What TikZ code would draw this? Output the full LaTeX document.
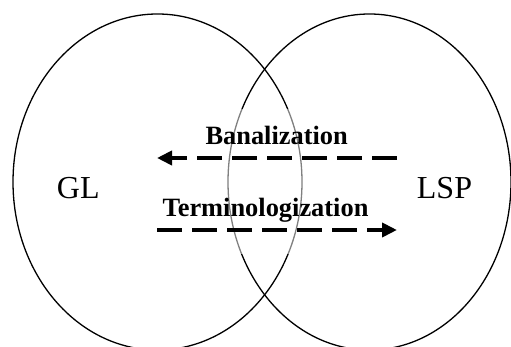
\documentclass[tikz,border=0pt]{standalone}
\usepackage{fontspec}
\setmainfont{Liberation Serif}
\usetikzlibrary{arrows.meta}
\begin{document}
\begin{tikzpicture}[x=1pt,y=1pt,
  field/.style={draw=black,line width=1.3pt},
  flow/.style={line width=4pt,dash pattern=on 25pt off 10pt,
    -{Triangle[length=15pt,width=14pt]}},
  domainlabel/.style={inner sep=0pt,anchor=base west,font=\fontsize{32}{36}\selectfont},
  flowlabel/.style={inner sep=0pt,anchor=base,font=\fontsize{26.4}{30}\selectfont\bfseries}]
  \useasboundingbox (0,0) rectangle (511,347);
  % the two overlapping fields
  \draw[field] (157.5,165) ellipse [x radius=144.5, y radius=168];
  \draw[field] (369.5,165) ellipse [x radius=141.5, y radius=168];
  % lighter middle of the overlap
  \fill[white,opacity=0.5] (200,93) rectangle (330,238);
  % field names
  \node[domainlabel] (gl) at (56.7,148) {GL};
  \node[domainlabel] (lsp) at (416.7,148) {LSP};
  % transfer arrows
  \coordinate (banstart) at (397,189);
  \coordinate (banend) at (157,189);
  \coordinate (termstart) at (157,117);
  \coordinate (termend) at (397,117);
  \draw[flow] (banstart) -- (banend);
  \draw[flow] (termstart) -- (termend);
  \node[flowlabel] (ban) at (276.7,202) {Banalization};
  \node[flowlabel] (term) at (265.5,130.3) {Terminologization};
\end{tikzpicture}
\end{document}
